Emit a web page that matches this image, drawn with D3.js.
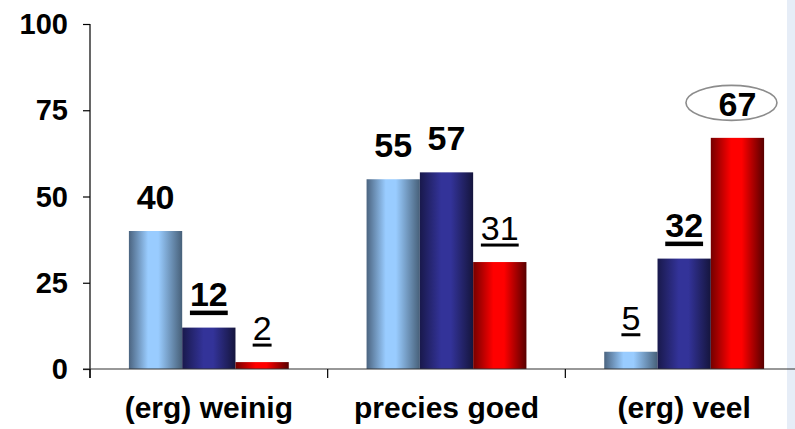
<!DOCTYPE html>
<html>
<head>
<meta charset="utf-8">
<script src="https://cdn.jsdelivr.net/npm/d3@7"></script>
<style>
  html, body { margin: 0; padding: 0; background: #ffffff; }
  svg { display: block; }
  text { font-family: "Liberation Sans", Arial, sans-serif; }
</style>
</head>
<body>
<svg id="chart" width="795" height="429"></svg>
<script>
// ---- data ----
const categories = ["(erg) weinig", "precies goed", "(erg) veel"];
const seriesNames = ["lichtblauw", "donkerblauw", "rood"];
const valuesLight = [40, 55, 5];
const valuesNavy  = [12, 57, 32];
const valuesRed   = [2, 31, 67];
const yTicks = [0, 25, 50, 75, 100];
// label styling per category per series: bold / underline
const labelBold = [[true, true, false], [true, true, false], [false, true, true]];
const labelUnder = [[false, true, true], [false, false, true], [true, true, false]];
const circledLabel = { series: 2, category: 2 };

const seriesValues = [valuesLight, valuesNavy, valuesRed];

(function () {
const svg = d3.select("#chart");
const W = 795, H = 429;
const mLeft = 90, mRight = 803, mTop = 24, mBottom = 369;

// gradients
const defs = svg.append("defs");
const gradStops = [
  [["0%", "#4b6480"], ["36%", "#99ccff"], ["55%", "#99ccff"], ["100%", "#476079"]],
  [["0%", "#19194c"], ["40%", "#333399"], ["58%", "#333399"], ["100%", "#15153d"]],
  [["0%", "#750000"], ["38%", "#ff0000"], ["58%", "#ff0000"], ["100%", "#580000"]]
];
gradStops.forEach((stops, i) => {
  const g = defs.append("linearGradient").attr("id", "g" + i)
    .attr("x1", "0%").attr("x2", "100%").attr("y1", "0%").attr("y2", "0%");
  stops.forEach(s => g.append("stop").attr("offset", s[0]).attr("stop-color", s[1]));
});

// scales
const x0 = d3.scaleBand().domain(categories).range([mLeft, mRight]).padding(0);
const x1 = d3.scaleBand().domain(d3.range(seriesNames.length)).range([0, x0.bandwidth()])
  .paddingInner(0).paddingOuter(0.73);
const y = d3.scaleLinear().domain([0, 100]).range([mBottom, mTop]);

// right pale strip
svg.append("rect").attr("x", 787).attr("y", 0).attr("width", 8).attr("height", H)
  .attr("fill", "#e6edf7");

// bars
const groups = svg.append("g").selectAll("g").data(categories).join("g")
  .attr("transform", c => `translate(${x0(c)},0)`);

groups.selectAll("rect").data((c, ci) => seriesValues.map((vals, si) => ({ si, ci, v: vals[ci] })))
  .join("rect")
  .attr("x", d => x1(d.si))
  .attr("y", d => y(d.v))
  .attr("width", x1.bandwidth())
  .attr("height", d => y(0) - y(d.v))
  .attr("fill", d => `url(#g${d.si})`);

// y axis
const yAxis = svg.append("g").attr("transform", `translate(${mLeft},0)`)
  .call(d3.axisLeft(y).tickValues(yTicks).tickSize(7).tickPadding(15));
yAxis.select(".domain").remove();
yAxis.selectAll(".tick line").attr("stroke", "#000").attr("stroke-width", 1.2);
yAxis.selectAll("text").attr("font-size", 29).attr("font-weight", "bold").attr("fill", "#000")
  .attr("dy", "0.33em");
svg.append("line").attr("x1", mLeft).attr("x2", mLeft).attr("y1", y(100)).attr("y2", mBottom + 9)
  .attr("stroke", "#000").attr("stroke-width", 1.2);

// x axis line
svg.append("line").attr("x1", mLeft - 7).attr("x2", W).attr("y1", mBottom).attr("y2", mBottom)
  .attr("stroke", "#333").attr("stroke-width", 1.2);
// category boundary ticks
svg.append("g").selectAll("line").data(categories).join("line")
  .attr("x1", c => x0(c)).attr("x2", c => x0(c))
  .attr("y1", mBottom).attr("y2", mBottom + 9)
  .attr("stroke", "#000").attr("stroke-width", 1.2);

// category labels
const xAxis = svg.append("g").attr("transform", `translate(0,${mBottom})`)
  .call(d3.axisBottom(x0).tickSize(0).tickPadding(0));
xAxis.select(".domain").remove();
xAxis.selectAll("text").attr("font-size", 30).attr("font-weight", "bold").attr("fill", "#000")
  .attr("dy", 0).attr("y", 49);

// value labels
const labels = [];
categories.forEach((c, ci) => {
  seriesValues.forEach((vals, si) => {
    labels.push({ ci, si, v: vals[ci], b: labelBold[ci][si], u: labelUnder[ci][si] });
  });
});

// ellipse for circled label
const cl = labels.find(d => d.ci === circledLabel.category && d.si === circledLabel.series);
const clx = x0(categories[cl.ci]) + x1(cl.si) + x1.bandwidth() / 2;
svg.append("ellipse").attr("cx", clx - 6).attr("cy", y(cl.v) - 35)
  .attr("rx", 45.5).attr("ry", 17.5)
  .attr("fill", "#fff").attr("stroke", "#8c8c8c").attr("stroke-width", 1.6);

const lg = svg.append("g");
labels.forEach(d => {
  const cx = x0(categories[d.ci]) + x1(d.si) + x1.bandwidth() / 2;
  const by = y(d.v) - 22;
  const t = lg.append("text").attr("x", cx).attr("y", by).attr("text-anchor", "middle")
    .attr("font-size", 34).attr("font-weight", d.b ? "bold" : "normal").attr("fill", "#000")
    .text(d.v);
  if (d.u) {
    const w = t.node().getComputedTextLength();
    lg.append("rect").attr("x", cx - w / 2).attr("y", by + (d.b ? 5 : 3.5))
      .attr("width", w).attr("height", d.b ? 4.5 : 3).attr("fill", "#000");
  }
});
})();
</script>
</body>
</html>
